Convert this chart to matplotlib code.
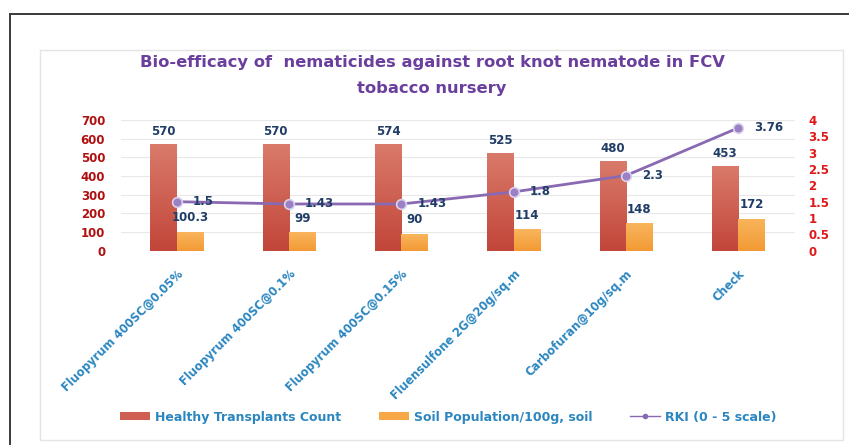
import numpy as np
import matplotlib
matplotlib.use("Agg")
import matplotlib.pyplot as plt
from matplotlib.patches import Rectangle, Patch
from matplotlib.lines import Line2D
from matplotlib.colors import LinearSegmentedColormap

# ---- data ----
treatments = [
    "Fluopyrum 400SC@0.05%",
    "Fluopyrum 400SC@0.1%",
    "Fluopyrum 400SC@0.15%",
    "Fluensulfone 2G@20g/sq.m",
    "Carbofuran@10g/sq.m",
    "Check",
]
healthy_transplants = [570, 570, 574, 525, 480, 453]
soil_population = [100.3, 99, 90, 114, 148, 172]
rki = [1.5, 1.43, 1.43, 1.8, 2.3, 3.76]
rki_labels = ["1.5", "1.43", "1.43", "1.8", "2.3", "3.76"]
soil_labels = ["100.3", "99", "90", "114", "148", "172"]

left_ticks = [0, 100, 200, 300, 400, 500, 600, 700]
right_ticks = [0, 0.5, 1, 1.5, 2, 2.5, 3, 3.5, 4]
right_tick_labels = ["0", "0.5", "1", "1.5", "2", "2.5", "3", "3.5", "4"]

W, H = 849, 445
fig = plt.figure(figsize=(W / 100, H / 100), dpi=100)
fig.patch.set_facecolor("white")

def fx(px):
    return px / W

def fy(py):
    return 1 - py / H

# outer frame (top and left edges)
fig.add_artist(Line2D([fx(10), fx(849)], [fy(14), fy(14)], color="#3a3a3a", lw=1.4))
fig.add_artist(Line2D([fx(10), fx(10)], [fy(14), fy(445)], color="#3a3a3a", lw=1.4))
# inner chart panel
fig.add_artist(Rectangle((fx(40), fy(440)), fx(843) - fx(40), fy(50) - fy(440),
                         transform=fig.transFigure, facecolor="white",
                         edgecolor="#e4e4e4", lw=1.0, zorder=0))

ax = fig.add_axes([fx(120.5), fy(250.7), fx(794.5) - fx(120.5), fy(120) - fy(250.7)])
ax.set_facecolor("none")
ax2 = ax.twinx()

x = np.arange(len(treatments))
bw = 0.235

red_cmap = LinearSegmentedColormap.from_list("red", ["#c2463a", "#d97a6a"])
org_cmap = LinearSegmentedColormap.from_list("org", ["#f29a35", "#f9b55c"])

def gradient_bars(bars, cmap):
    for b in bars:
        x0, y0 = b.get_x(), b.get_y()
        w, h = b.get_width(), b.get_height()
        grad = np.linspace(0, 1, 64).reshape(-1, 1)
        im = ax.imshow(grad, cmap=cmap, origin="lower", aspect="auto",
                       extent=[x0, x0 + w, y0, y0 + h], zorder=2)
        im.set_clip_path(b)
        b.set_facecolor("none")

bars_red = ax.bar(x - bw / 2, healthy_transplants, bw, color="#cc5a4a", lw=0, zorder=2)
bars_org = ax.bar(x + bw / 2, soil_population, bw, color="#f5a040", lw=0, zorder=2)
gradient_bars(bars_red, red_cmap)
gradient_bars(bars_org, org_cmap)

label_kw = dict(textcoords="offset pixels", color="#1f3d66", fontsize=8.5,
                fontweight="heavy", ha="center", va="center", zorder=5)
for xi, v in zip(x, healthy_transplants):
    ax.annotate(str(v), (xi - bw / 2, v), xytext=(0, 12.5), **label_kw)
for xi, v, s in zip(x, soil_population, soil_labels):
    ax.annotate(s, (xi + bw / 2, v), xytext=(0, 14), **label_kw)

ax.set_xlim(-0.5, len(treatments) - 0.5)
ax.set_ylim(0, 700)
ax.set_yticks(left_ticks)
ax.yaxis.grid(True, color="#e8e8e8", lw=0.8)
ax.set_axisbelow(True)
for s in ax.spines.values():
    s.set_visible(False)
ax.tick_params(axis="y", length=0, pad=11, labelsize=8.5, labelcolor="#b01010")
for t in ax.get_yticklabels():
    t.set_fontweight("heavy")

ax.set_xticks(x)
ax.set_xticklabels(treatments, rotation=45, ha="right", rotation_mode="anchor",
                   fontsize=8.3, fontweight="bold", color="#2b86c0")
ax.tick_params(axis="x", length=0, pad=12)

# RKI line on the secondary axis
ax2.plot(x, rki, color="#8a69b3", lw=2, marker="o", markersize=7,
         markerfacecolor="#9a80c4", markeredgecolor="#ddd2ec", markeredgewidth=1.2,
         zorder=4)
for xi, v, s in zip(x, rki, rki_labels):
    ax2.annotate(s, (xi, v), xytext=(16, 0), textcoords="offset pixels",
                 color="#1f3d66", fontsize=8.5, fontweight="heavy",
                 ha="left", va="center", zorder=5)
ax2.set_ylim(0, 4)
ax2.set_yticks(right_ticks)
ax2.set_yticklabels(right_tick_labels)
for s in ax2.spines.values():
    s.set_visible(False)
ax2.tick_params(axis="y", length=0, pad=10, labelsize=8.5, labelcolor="#e01818")
for t in ax2.get_yticklabels():
    t.set_fontweight("heavy")

# title
fig.text(fx(432), fy(63), "Bio-efficacy of  nematicides against root knot nematode in FCV",
         ha="center", va="center", fontsize=11.8, fontweight="heavy", color="#6a3f9e")
fig.text(fx(432), fy(88), "tobacco nursery",
         ha="center", va="center", fontsize=11.8, fontweight="heavy", color="#6a3f9e")

# legend
handles = [
    Patch(facecolor="#cf5f50", edgecolor="none"),
    Patch(facecolor="#f6a847", edgecolor="none"),
    Line2D([0], [0], color="#8a69b3", lw=1, marker="o", markersize=3,
           markerfacecolor="#8a69b3"),
]
labels = ["Healthy Transplants Count", "Soil Population/100g, soil", "RKI (0 - 5 scale)"]
leg = fig.legend(handles, labels, loc="center", ncol=3, frameon=False,
                 bbox_to_anchor=(fx(448), fy(417)),
                 handlelength=2.4, handleheight=0.55, columnspacing=3.0,
                 handletextpad=0.4, labelcolor="#2b86c0",
                 prop={"weight": "heavy", "size": 9})

fig.savefig("out.png", dpi=100, facecolor="white")
